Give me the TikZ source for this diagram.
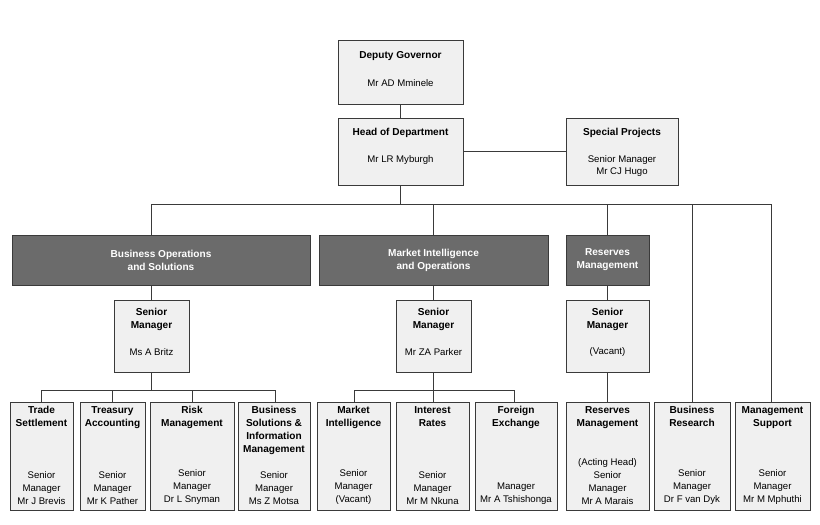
\documentclass[tikz,border=0pt]{standalone}
\usepackage{fontspec}
\setmainfont{Liberation Sans}
\usetikzlibrary{positioning}
\definecolor{boxline}{HTML}{3A3A3A}
\definecolor{boxfill}{HTML}{F0F0F0}
\definecolor{unitfill}{HTML}{6B6B6B}
\tikzset{
  box/.style={draw=boxline, fill=boxfill, line width=0.8pt, inner sep=0pt},
  unit/.style={draw=boxline, fill=unitfill, line width=0.8pt, inner sep=0pt, text=white,
    font=\fontsize{8.6}{11}\selectfont\bfseries, align=center},
  title/.style={font=\fontsize{8.6}{11}\selectfont\bfseries, align=center, inner sep=0pt},
  person/.style={font=\fontsize{8.2}{11}\selectfont, align=center, inner sep=0pt},
  link/.style={draw=boxline, line width=0.8pt}
}
\newcommand{\orgbox}[5]{% name, x1, x2, y1, y2
  \node[box, minimum width={(#3-#2)*0.03cm}, minimum height={(#5-#4)*0.03cm}] (#1) at ({(#2+#3)/2},{(#4+#5)/2}) {};}
\begin{document}
\begin{tikzpicture}[x=0.03cm, y=-0.03cm]
\useasboundingbox[fill=white] (0,0) rectangle (820,524);
% top boxes
\orgbox{dg}{338}{463}{40}{104}
\node[title] (dgT) at (400.5,56) {Deputy Governor};
\node[person] (dgN) at (400.5,83) {Mr AD Mminele};
\orgbox{hod}{338}{463}{118}{185}
\node[title] (hodT) at (400.5,133) {Head of Department};
\node[person] (hodN) at (400.5,160) {Mr LR Myburgh};
\orgbox{sp}{566}{678}{118}{185}
\node[title] (spT) at (622,133) {Special Projects};
\node[person] (spN) at (622,166) {Senior Manager\\Mr CJ Hugo};
% units
\node[unit, minimum width={298*0.03cm}, minimum height={50*0.03cm}] (bos) at (161,260) {Business Operations\\and Solutions};
\node[unit, minimum width={229*0.03cm}, minimum height={50*0.03cm}] (mio) at (433.5,260) {Market Intelligence\\and Operations};
\node[unit, minimum width={83*0.03cm}, minimum height={50*0.03cm}] (res) at (607.5,260) {Reserves\\Management};
% senior managers
\orgbox{smA}{114}{189}{300}{372}
\node[title] (smAT) at (151.5,319) {Senior\\Manager};
\node[person] (smAN) at (151.5,352) {Ms A Britz};
\orgbox{smB}{396}{471}{300}{372}
\node[title] (smBT) at (433.5,319) {Senior\\Manager};
\node[person] (smBN) at (433.5,352) {Mr ZA Parker};
\orgbox{smC}{566}{649}{300}{372}
\node[title] (smCT) at (607.5,319) {Senior\\Manager};
\node[person] (smCN) at (607.5,352) {(Vacant)};
% bottom boxes
\foreach \nm/\xa/\xb/\ttl/\who in {
  ts/10/73/{Trade\\Settlement}/{Senior\\Manager\\Mr J Brevis},
  ta/80/145/{Treasury\\Accounting}/{Senior\\Manager\\Mr K Pather},
  rm/150/234/{Risk\\Management}/{Senior\\Manager\\Dr L Snyman},
  bs/238/310/{Business\\Solutions \&\\Information\\Management}/{Senior\\Manager\\Ms Z Motsa},
  mi/317/390/{Market\\Intelligence}/{Senior\\Manager\\(Vacant)},
  ir/396/469/{Interest\\Rates}/{Senior\\Manager\\Mr M Nkuna},
  fx/475/557/{Foreign\\Exchange}/{Manager\\Mr A Tshishonga},
  rv/566/649/{Reserves\\Management}/{(Acting Head)\\Senior\\Manager\\Mr A Marais},
  br/654/730/{Business\\Research}/{Senior\\Manager\\Dr F van Dyk},
  ms/735/810/{Management\\Support}/{Senior\\Manager\\Mr M Mphuthi}}{
  \orgbox{\nm}{\xa}{\xb}{402}{510}
  \node[title, below=4pt of \nm.north] {\ttl};
  \node[person, above=5pt of \nm.south] {\who};
}
% connectors
\coordinate (busL) at (151,204);
\coordinate (busR) at (771,204);
\coordinate (busA) at (41,390);
\coordinate (busB) at (354,390);
\draw[link] (dg) -- (hod);
\draw[link] (hod) -- (sp);
\draw[link] (hod.south) -- (hod.south|-busL);
\draw[link] (busL) -- (busR);
\draw[link] (busL) -- (busL|-bos.north);
\draw[link] (mio.north|-busL) -- (mio.north);
\draw[link] (res.north|-busL) -- (res.north);
\draw[link] (692,204) -- (br.north-|692,0);
\draw[link] (busR) -- (busR|-ms.north);
\draw[link] (smA|-bos.south) -- (smA.north);
\draw[link] (smB|-mio.south) -- (smB.north);
\draw[link] (res.south) -- (smC.north);
\draw[link] (smA.south) -- (smA.south|-busA);
\draw[link] (busA) -- (275,390);
\foreach \k/\x in {ts/41,ta/112,rm/192,bs/275}{
  \draw[link] (\x,390) -- (\k.north-|\x,0);
}
\draw[link] (smB.south) -- (smB.south|-busB);
\draw[link] (busB) -- (514,390);
\foreach \k/\x in {mi/354,ir/433,fx/514}{
  \draw[link] (\x,390) -- (\k.north-|\x,0);
}
\draw[link] (smC.south) -- (rv.north);
\end{tikzpicture}
\end{document}
